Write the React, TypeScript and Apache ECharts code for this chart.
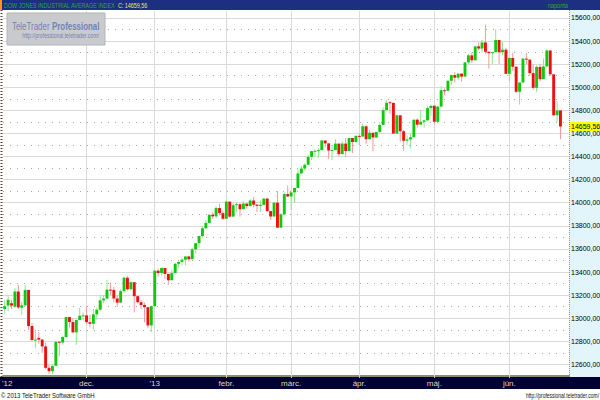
import React, { useEffect, useRef } from 'react';
import * as echarts from 'echarts';

const FONT = "'Liberation Sans', Arial, sans-serif";

// trading days per month (categories)
const tradingDays: [string, number[]][] = [
  ['2012-10', [25, 26, 31]],
  ['2012-11', [1, 2, 5, 6, 7, 8, 9, 12, 13, 14, 15, 16, 19, 20, 21, 23, 26, 27, 28, 29, 30]],
  ['2012-12', [3, 4, 5, 6, 7, 10, 11, 12, 13, 14, 17, 18, 19, 20, 21, 24, 26, 27, 28, 31]],
  ['2013-01', [2, 3, 4, 7, 8, 9, 10, 11, 14, 15, 16, 17, 18, 22, 23, 24, 25, 28, 29, 30, 31]],
  ['2013-02', [1, 4, 5, 6, 7, 8, 11, 12, 13, 14, 15, 19, 20, 21, 22, 25, 26, 27, 28]],
  ['2013-03', [1, 4, 5, 6, 7, 8, 11, 12, 13, 14, 15, 18, 19, 20, 21, 22, 25, 26, 27, 28]],
  ['2013-04', [1, 2, 3, 4, 5, 8, 9, 10, 11, 12, 15, 16, 17, 18, 19, 22, 23, 24, 25, 26, 29, 30]],
  ['2013-05', [1, 2, 3, 6, 7, 8, 9, 10, 13, 14, 15, 16, 17, 20, 21, 22, 23, 24, 28, 29, 30, 31]],
  ['2013-06', [3, 4, 5, 6, 7, 10, 11, 12, 13, 14, 17, 18, 19, 20, 21, 24]],
];
const dates: string[] = tradingDays.flatMap(([m, ds]) => ds.map((d) => `${m}-${String(d).padStart(2, '0')}`));

// [open, close, low, high]
const candles: number[][] = [
  // Oct 2012
  [13080, 13104, 13040, 13160], [13110, 13160, 13060, 13200], [13130, 13110, 13080, 13160],
  // Nov 2012
  [13100, 13232, 13090, 13260], [13232, 13093, 13080, 13290], [13090, 13112, 13030, 13140],
  [13112, 13245, 13100, 13290], [13245, 12932, 12900, 13245], [12932, 12811, 12800, 12960],
  [12811, 12815, 12740, 12900], [12830, 12815, 12780, 12880], [12815, 12756, 12700, 12820],
  [12756, 12571, 12560, 12790], [12571, 12542, 12520, 12600], [12542, 12588, 12515, 12600],
  [12588, 12796, 12588, 12800], [12796, 12789, 12670, 12800], [12789, 12837, 12770, 12850],
  [12837, 13010, 12837, 13010], [13010, 12967, 12920, 13010], [12967, 12878, 12870, 13000],
  [12878, 12985, 12770, 12990], [12985, 13022, 12980, 13090], [13022, 13025, 12980, 13050],
  // Dec 2012
  [13025, 12966, 12950, 13100], [12966, 12952, 12920, 13030], [12952, 13034, 12900, 13080],
  [13034, 13074, 12990, 13090], [13074, 13155, 13060, 13200], [13155, 13170, 13130, 13200],
  [13170, 13248, 13165, 13330], [13248, 13245, 13200, 13310], [13245, 13171, 13140, 13270],
  [13171, 13135, 13100, 13200], [13135, 13235, 13130, 13250], [13235, 13351, 13220, 13360],
  [13351, 13252, 13240, 13365], [13252, 13312, 13240, 13320], [13312, 13191, 13050, 13312],
  [13191, 13139, 13130, 13200], [13139, 13115, 13080, 13160], [13115, 13096, 12965, 13135],
  [13096, 12938, 12915, 13096], [12938, 13104, 12880, 13110],
  // Jan 2013
  [13104, 13412, 13104, 13412], [13412, 13391, 13360, 13430], [13391, 13435, 13370, 13440],
  [13435, 13384, 13340, 13435], [13384, 13329, 13290, 13384], [13329, 13391, 13329, 13420],
  [13391, 13471, 13391, 13480], [13471, 13488, 13440, 13490], [13488, 13507, 13460, 13520],
  [13507, 13535, 13460, 13540], [13535, 13511, 13490, 13540], [13511, 13596, 13511, 13610],
  [13596, 13650, 13560, 13650], [13650, 13712, 13610, 13712], [13712, 13779, 13700, 13800],
  [13779, 13825, 13770, 13850], [13825, 13896, 13820, 13900], [13896, 13882, 13860, 13920],
  [13882, 13954, 13870, 13970], [13954, 13910, 13890, 13990], [13910, 13861, 13850, 13930],
  // Feb 2013
  [13861, 14010, 13861, 14020], [14010, 13880, 13870, 14010], [13880, 13979, 13880, 14000],
  [13979, 13987, 13920, 14000], [13987, 13944, 13880, 13995], [13944, 13993, 13944, 14010],
  [13993, 13971, 13950, 13995], [13971, 14019, 13970, 14030], [14019, 13983, 13960, 14050],
  [13983, 13973, 13920, 13990], [13973, 13982, 13920, 14020], [13982, 14036, 13982, 14040],
  [14036, 13928, 13920, 14040], [13928, 13881, 13850, 13930], [13881, 14001, 13881, 14002],
  [14001, 13784, 13784, 14100], [13784, 13900, 13784, 13910], [13900, 14075, 13890, 14090],
  [14075, 14054, 14050, 14150],
  // Mar 2013
  [14054, 14090, 13937, 14090], [14090, 14128, 14000, 14130], [14128, 14254, 14128, 14287],
  [14254, 14296, 14254, 14320], [14296, 14329, 14280, 14340], [14329, 14397, 14329, 14414],
  [14397, 14447, 14370, 14448], [14447, 14450, 14400, 14460], [14450, 14455, 14390, 14470],
  [14455, 14539, 14455, 14540], [14539, 14514, 14480, 14539], [14514, 14452, 14380, 14514],
  [14452, 14456, 14370, 14500], [14456, 14512, 14456, 14550], [14512, 14421, 14400, 14512],
  [14421, 14512, 14421, 14530], [14512, 14448, 14400, 14560], [14448, 14560, 14448, 14560],
  [14560, 14526, 14430, 14560], [14526, 14579, 14520, 14585],
  // Apr 2013
  [14579, 14573, 14500, 14600], [14573, 14662, 14573, 14685], [14662, 14550, 14510, 14670],
  [14550, 14606, 14550, 14630], [14606, 14565, 14445, 14606], [14565, 14613, 14560, 14615],
  [14613, 14673, 14600, 14700], [14673, 14802, 14673, 14826], [14802, 14865, 14790, 14888],
  [14870, 14865, 14770, 14880], [14865, 14599, 14599, 14865], [14599, 14757, 14599, 14760],
  [14757, 14619, 14530, 14757], [14619, 14537, 14450, 14630], [14537, 14548, 14500, 14580],
  [14548, 14567, 14470, 14600], [14567, 14719, 14567, 14720], [14719, 14676, 14650, 14730],
  [14676, 14701, 14676, 14800], [14701, 14713, 14650, 14720], [14713, 14819, 14713, 14839],
  [14819, 14840, 14752, 14840],
  // May 2013
  [14840, 14701, 14680, 14840], [14701, 14832, 14701, 14840], [14832, 14974, 14832, 15009],
  [14974, 14969, 14930, 14990], [14969, 15056, 14969, 15060], [15056, 15105, 15020, 15110],
  [15105, 15083, 15040, 15130], [15083, 15118, 15060, 15120], [15118, 15092, 15050, 15120],
  [15092, 15215, 15092, 15215], [15215, 15276, 15200, 15290], [15276, 15233, 15210, 15300],
  [15233, 15354, 15233, 15355], [15354, 15335, 15320, 15390], [15335, 15388, 15300, 15410],
  [15388, 15307, 15290, 15542], [15307, 15295, 15160, 15310], [15295, 15303, 15200, 15305],
  [15303, 15409, 15303, 15500], [15409, 15303, 15200, 15409], [15303, 15325, 15280, 15390],
  [15325, 15116, 15115, 15340],
  // Jun 2013
  [15116, 15254, 15050, 15260], [15254, 15178, 15140, 15300], [15178, 14961, 14950, 15178],
  [14961, 15041, 14850, 15041], [15041, 15248, 15041, 15250], [15248, 15239, 15200, 15300],
  [15239, 15122, 15100, 15239], [15122, 14995, 14980, 15200], [14995, 15176, 14960, 15190],
  [15176, 15070, 15050, 15200], [15070, 15180, 15070, 15250], [15180, 15318, 15180, 15330],
  [15318, 15112, 15100, 15320], [15112, 14758, 14750, 15112], [14758, 14799, 14700, 14880],
  [14799, 14660, 14551, 14799],
];

const yLabelValues = [12600, 12800, 13000, 13200, 13400, 13600, 13800, 14000, 14200, 14400, 14600, 14800, 15000, 15200, 15400, 15600];
const yMinorValues = [12700, 12900, 13100, 13300, 13500, 13700, 13900, 14100, 14300, 14500, 14700, 14900, 15100, 15300, 15500];
const monthLabels: Record<string, string> = {
  '2012-12-03': 'dec.',
  '2013-01-02': "'13",
  '2013-02-01': 'febr.',
  '2013-03-01': 'márc.',
  '2013-04-01': 'ápr.',
  '2013-05-01': 'máj.',
  '2013-06-03': 'jún.',
};
const firstLabel = "'12";
const lastClose = 14659.56;
const lastCloseText = '14659,56';
const titleText = 'DOW JONES INDUSTRIAL AVERAGE INDEX';
const closeText = 'C: 14659,56';
const periodText = 'naponta';

const fmt = (v: number) => v.toFixed(2).replace('.', ',');

export default function App() {
  const ref = useRef<HTMLDivElement>(null);
  useEffect(() => {
    document.body.style.margin = '0';
    const chart = echarts.init(ref.current!, undefined, { renderer: 'svg' });
    const seriesData = candles.map((c, i) => [i, c[0], c[1], c[2], c[3]]);
    const markData: any[] = [
      ...yLabelValues.map((v) => ({ yAxis: v, lineStyle: { color: '#dadada', type: 'solid', width: 1 } })),
      ...yMinorValues.map((v) => ({ yAxis: v, lineStyle: { color: '#a6a6a6', type: [1, 6], width: 1 } })),
      ...Object.keys(monthLabels).map((d) => ({ xAxis: dates.indexOf(d), lineStyle: { color: '#dadada', type: 'solid', width: 1 } })),
    ];
    chart.setOption({
      animation: false,
      backgroundColor: '#ffffff',
      grid: { left: 3, right: 31, top: 11, bottom: 24, containLabel: false, outerBoundsMode: 'none' },
      xAxis: {
        type: 'category',
        data: dates,
        boundaryGap: true,
        max: dates.length + 1,
        axisLine: { show: true, lineStyle: { color: '#8c8c78', width: 2 } },
        axisTick: {
          show: true, alignWithLabel: true, length: 2,
          interval: (_i: number, v: string) => v in monthLabels,
          lineStyle: { color: '#c8c890' },
        },
        axisLabel: {
          interval: (_i: number, v: string) => v in monthLabels,
          formatter: (v: string) => monthLabels[v] ?? '',
          color: '#dcdcb4', fontSize: 8, fontFamily: FONT, margin: 3,
        },
        splitLine: { show: false },
      },
      yAxis: {
        type: 'value',
        position: 'right',
        min: 12500,
        max: 15660,
        interval: 100,
        axisLine: { show: false },
        axisTick: { show: false },
        splitLine: { show: false },
        axisLabel: {
          margin: 2, color: '#000', fontSize: 7, fontFamily: FONT,
          showMaxLabel: false,
          formatter: (v: number) => (yLabelValues.includes(v) ? fmt(v) : ''),
        },
      },
      series: [
        {
          type: 'line',
          data: candles.map((c) => c[1]),
          symbol: 'none',
          lineStyle: { opacity: 0 },
          silent: true,
          z: 1,
          markLine: {
            silent: true, symbol: ['none', 'none'], z: 1, animation: false,
            label: { show: false },
            data: markData,
          },
        },
        {
          type: 'line',
          data: candles.map((c) => c[1]),
          symbol: 'none',
          lineStyle: { opacity: 0 },
          silent: true,
          z: 1,
          markLine: {
            silent: true, symbol: ['none', 'none'], z: 6, animation: false,
            data: [
              {
                yAxis: lastClose,
                lineStyle: { color: 'rgba(0,0,0,0)', width: 0 },
                label: {
                  show: true, position: 'end', distance: 1, formatter: lastCloseText,
                  backgroundColor: '#ffff00', color: '#000', fontSize: 7, fontFamily: FONT, padding: [1, 2, 1, 1],
                },
              },
            ],
          },
        },
        {
          type: 'custom',
          z: 3,
          data: seriesData,
          encode: { x: 0, y: [1, 2, 3, 4] },
          renderItem: (_params: any, api: any) => {
            const i = api.value(0);
            const o = api.value(1), c = api.value(2), l = api.value(3), h = api.value(4);
            const pO = api.coord([i, o]);
            const pC = api.coord([i, c]);
            const pL = api.coord([i, l]);
            const pH = api.coord([i, h]);
            const w = api.size([1, 0])[0] * 0.85;
            const up = c >= o;
            const top = Math.min(pO[1], pC[1]);
            const hgt = Math.max(1, Math.abs(pO[1] - pC[1]));
            return {
              type: 'group',
              children: [
                {
                  type: 'line',
                  shape: { x1: pL[0], y1: pL[1], x2: pH[0], y2: pH[1] },
                  style: { stroke: up ? '#8ee68e' : '#f59a9a', lineWidth: 1 },
                },
                {
                  type: 'rect',
                  shape: { x: pO[0] - w / 2, y: top, width: w, height: hgt },
                  style: { fill: up ? '#0fc80f' : '#ee1010' },
                },
              ],
            };
          },
        },
      ],
      graphic: [
        { type: 'rect', z: -10, silent: true, shape: { x: 569, y: 10, width: 31, height: 367 }, style: { fill: '#e2f5fb' } },
        { type: 'line', z: -9, silent: true, shape: { x1: 569.5, y1: 10, x2: 569.5, y2: 377 }, style: { stroke: '#9a9a60', lineWidth: 1, lineDash: [1, 1] } },
        { type: 'rect', z: -10, silent: true, shape: { x: 0, y: 377, width: 600, height: 12 }, style: { fill: '#000033' } },
        { type: 'line', z: 20, silent: true, shape: { x1: 1.5, y1: 10, x2: 1.5, y2: 377 }, style: { stroke: '#5a4030', lineWidth: 2, lineDash: [1, 2] } },
        { type: 'text', z: 20, silent: true, x: 2, y: 383, style: { text: firstLabel, fill: '#dcdcb4', fontSize: 8, fontFamily: FONT, verticalAlign: 'middle' } },
        // header
        { type: 'rect', z: 30, silent: true, shape: { x: 0, y: 0, width: 600, height: 10 }, style: { fill: '#1c2f80' } },
        { type: 'rect', z: 31, silent: true, shape: { x: 0, y: 0, width: 2, height: 10 }, style: { fill: '#ff9900' } },
        {
          type: 'text', z: 32, silent: true, x: 4, y: 5, scaleX: 0.72,
          style: {
            text: `{g|${titleText}} {y|${closeText}}`,
            verticalAlign: 'middle',
            rich: {
              g: { fill: '#2eaa2e', fontSize: 7.5, fontFamily: FONT },
              y: { fill: '#e8e860', fontSize: 7.5, fontFamily: FONT },
            },
          },
        },
        { type: 'text', z: 32, silent: true, x: 568, y: 5, scaleX: 0.75, style: { text: periodText, fill: '#2eaa2e', fontSize: 7.5, fontFamily: FONT, align: 'right', verticalAlign: 'middle' } },
        // watermark
        { type: 'rect', z: 30, silent: true, shape: { x: 7, y: 13, width: 98, height: 32 }, style: { fill: '#c9cacd', stroke: '#b4b4bc', lineWidth: 1 } },
        {
          type: 'text', z: 31, silent: true, x: 12, y: 26, scaleX: 0.72,
          style: {
            text: '{a|TeleTrader} {b|Professional}',
            verticalAlign: 'middle',
            rich: {
              a: { fill: '#7482b6', fontSize: 11, fontFamily: FONT },
              b: { fill: '#7482b6', fontSize: 11, fontFamily: FONT, fontWeight: 'bold' },
            },
          },
        },
        { type: 'text', z: 31, silent: true, x: 99, y: 36, scaleX: 0.8, style: { text: 'http://professional.teletrader.com/', fill: '#7482b6', fontSize: 6.5, fontFamily: FONT, align: 'right', verticalAlign: 'middle' } },
        // footer
        { type: 'text', z: 20, silent: true, x: 1, y: 395, scaleX: 0.8, style: { text: '© 2013 TeleTrader Software GmbH', fill: '#111', fontSize: 7.5, fontFamily: FONT, verticalAlign: 'middle' } },
        { type: 'text', z: 20, silent: true, x: 599, y: 395, scaleX: 0.66, style: { text: 'http://professional.teletrader.com/', fill: '#111', fontSize: 7.5, fontFamily: FONT, align: 'right', verticalAlign: 'middle' } },
      ],
    });
    return () => chart.dispose();
  }, []);
  return <div ref={ref} style={{ position: 'fixed', left: 0, top: 0, width: 600, height: 400 }} />;
}
